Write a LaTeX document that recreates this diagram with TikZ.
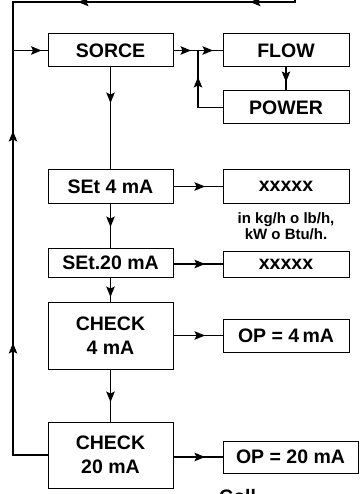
\documentclass[tikz,border=0pt]{standalone}
\usepackage{fontspec}
\setmainfont{Liberation Sans}
\usetikzlibrary{arrows.meta,decorations.markings,calc}
\tikzset{
  box/.style={draw, line width=1pt, inner sep=0pt, align=center,
    font=\fontsize{19.5}{23.5}\selectfont\bfseries},
  note/.style={inner sep=0pt, font=\fontsize{15}{16.5}\selectfont\bfseries},
  capt/.style={inner sep=0pt, font=\fontsize{19.5}{23.5}\selectfont\bfseries},
  ln/.style={line width=1.1pt},
  ar/.style={postaction={decorate,decoration={markings,
    mark=at position #1 with {\arrow{Stealth[length=10.5pt,width=8.5pt,inset=2pt]}}}}},
}
\begin{document}
\begin{tikzpicture}[x=1pt,y=-1pt]
\useasboundingbox (0,0) rectangle (360,494);
% boxes
\node[box, minimum width=125pt, minimum height=33pt] (sorce) at (110.5,50.5) {SORCE};
\node[box, minimum width=126pt, minimum height=33pt] (flow) at (286,50.5) {FLOW};
\node[box, minimum width=126pt, minimum height=33pt] (power) at (286,107.5) {POWER};
\node[box, minimum width=125pt, minimum height=33pt] (set4) at (110.5,186.5) {SEt 4 mA};
\node[box, minimum width=126pt, minimum height=33pt] (x1) at (286,186.5) {xxxxx};
\node[box, minimum width=125pt, minimum height=29pt] (set20) at (110.5,262.5) {SEt.20 mA};
\node[box, minimum width=126pt, minimum height=26pt] (x2) at (286,264) {xxxxx};
\node[box, minimum width=125pt, minimum height=67pt] (chk4) at (110.5,335.5) {CHECK\\4 mA};
\node[box, minimum width=126pt, minimum height=33pt] (op4) at (286,335.5) {OP = 4\,mA};
\node[box, minimum width=125pt, minimum height=66pt] (chk20) at (110.5,455) {CHECK\\20 mA};
\node[box, minimum width=135pt, minimum height=32pt] (op20) at (290.5,457) {OP = 20 mA};
% notes
\node[note, anchor=base] (n1) at (286,223) {in kg/h o lb/h,};
\node[note, anchor=base] (n2) at (286,239) {kW o Btu/h.};
\node[capt, anchor=base west] (cap) at (219,503.5) {Coll};
% connectors
\coordinate (topin) at (295,-4);
\coordinate (tl) at (13,2);
\draw[ln, ar=51pt, ar=223pt] (topin) |- (tl) -- (tl |- sorce.west);
\draw[ln, ar=146.5pt, ar=358.5pt, ar=-6pt] (chk20.west) -- (tl |- chk20.west) -- (tl |- sorce.west) -- (sorce.west);
\draw[ln, ar=17.5pt, ar=-9.5pt] (sorce.east) -- (flow.west);
\coordinate (jn) at ($(sorce.east)!0.5!(flow.west)$);
\draw[ln, ar=55pt] (power.west) -| (jn);
\draw[ln, ar=14.5pt] (flow.south) -- (power.north);
\draw[ln, ar=35.5pt] (sorce.south) -- (set4.north);
\draw[ln, ar=31.5pt] (set4.east) -- (x1.west);
\draw[ln, ar=23.5pt] (set4.south) -- (set20.north);
\draw[ln, ar=31.5pt] (set20.east |- x2.west) -- (x2.west);
\draw[ln, ar=19.5pt] (set20.south) -- (chk4.north);
\draw[ln, ar=31.5pt] (chk4.east) -- (op4.west);
\draw[ln, ar=32.5pt] (chk4.south) -- (chk20.north);
\draw[ln, ar=31.5pt] (chk20.east |- op20.west) -- (op20.west);
\end{tikzpicture}
\end{document}
